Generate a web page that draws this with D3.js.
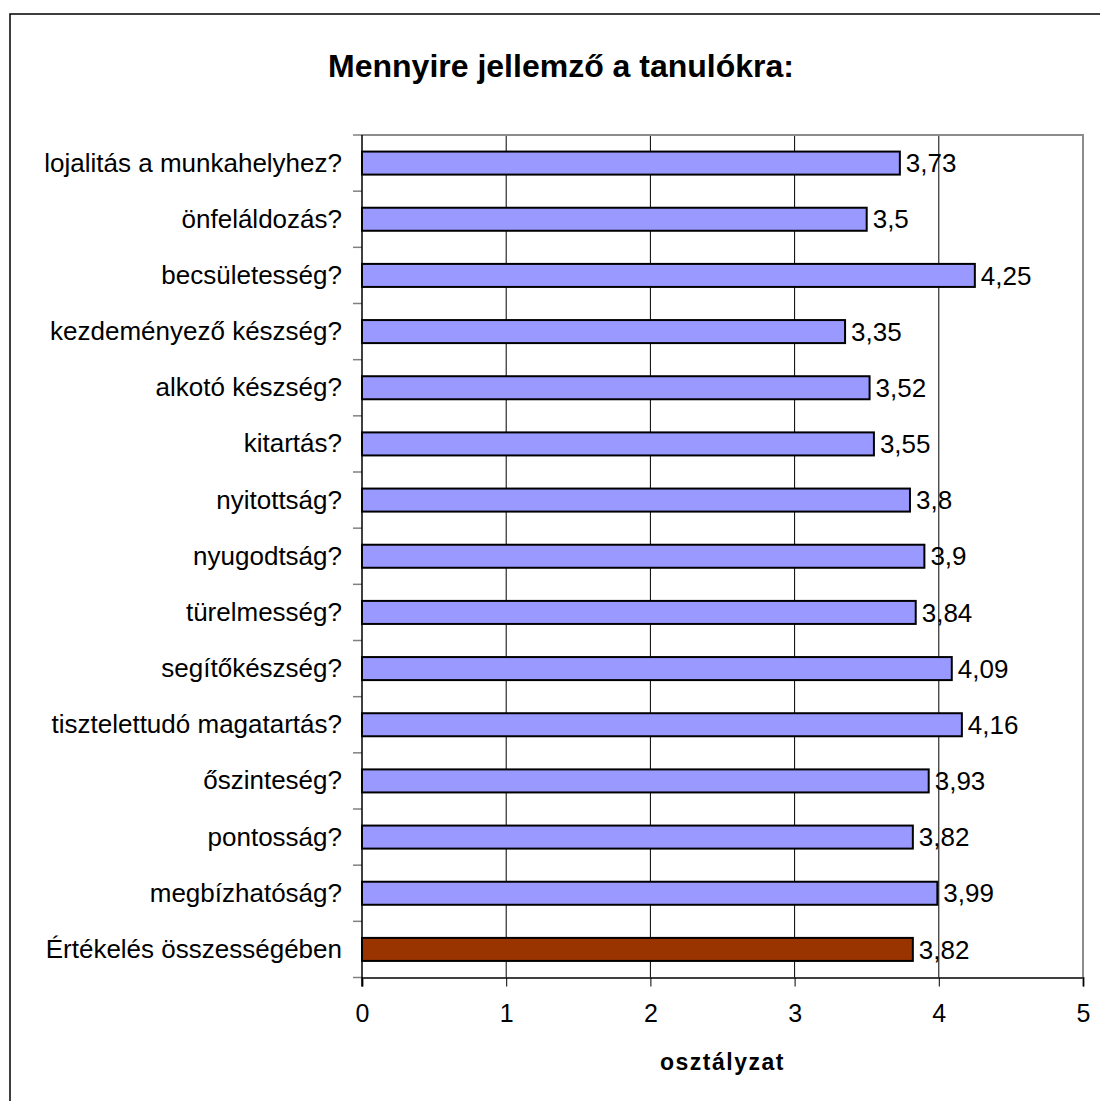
<!DOCTYPE html>
<html>
<head>
<meta charset="utf-8">
<script src="https://cdn.jsdelivr.net/npm/d3@7"></script>
<style>
  html, body { margin: 0; padding: 0; background: #fff; }
  text { font-family: "Liberation Sans", Arial, sans-serif; fill: #000; }
</style>
</head>
<body>
<svg id="chart" width="1100" height="1101"></svg>
<script>
const titleText = "Mennyire jellemző a tanulókra:";
const axisTitle = "osztályzat";
const categories = [
  "lojalitás a munkahelyhez?",
  "önfeláldozás?",
  "becsületesség?",
  "kezdeményező készség?",
  "alkotó készség?",
  "kitartás?",
  "nyitottság?",
  "nyugodtság?",
  "türelmesség?",
  "segítőkészség?",
  "tisztelettudó magatartás?",
  "őszinteség?",
  "pontosság?",
  "megbízhatóság?",
  "Értékelés összességében"
];
const values = [3.73, 3.5, 4.25, 3.35, 3.52, 3.55, 3.8, 3.9, 3.84, 4.09, 4.16, 3.93, 3.82, 3.99, 3.82];
const valueLabels = ["3,73", "3,5", "4,25", "3,35", "3,52", "3,55", "3,8", "3,9", "3,84", "4,09", "4,16", "3,93", "3,82", "3,99", "3,82"];
const xTicks = [0, 1, 2, 3, 4, 5];
const highlighted = ["Értékelés összességében"];

const svg = d3.select("#chart");
const W = 1100, H = 1101;
const m = { left: 362, right: 1083, top: 135, bottom: 977.5 };

// outer frame
svg.append("rect").attr("x", 10).attr("y", 14).attr("width", 1100).attr("height", 1100)
  .attr("fill", "#fff").attr("stroke", "#000").attr("stroke-width", 1.5);

const x = d3.scaleLinear().domain([0, 5]).range([m.left, m.right]);
const y = d3.scaleBand().domain(categories).range([m.top, m.bottom])
  .paddingInner(0.59).paddingOuter(0.295);

// gridlines
svg.append("g").selectAll("line").data(xTicks.filter(t => t > 0 && t < 5)).join("line")
  .attr("x1", d => x(d)).attr("x2", d => x(d))
  .attr("y1", m.top).attr("y2", m.bottom)
  .attr("stroke", "#000").attr("stroke-width", 1);

// plot border top/right
svg.append("path")
  .attr("d", `M${m.left},${m.top}H${m.right}V${m.bottom}`)
  .attr("fill", "none").attr("stroke", "#8c8c8c").attr("stroke-width", 2);

// bars
svg.append("g").selectAll("rect").data(categories).join("rect")
  .attr("x", x(0))
  .attr("y", d => y(d))
  .attr("width", (d, i) => x(values[i]) - x(0))
  .attr("height", y.bandwidth())
  .attr("fill", d => highlighted.includes(d) ? "#993300" : "#9999FF")
  .attr("stroke", "#000").attr("stroke-width", 2);

// bottom axis
const xAxis = d3.axisBottom(x).tickValues(xTicks).tickSize(9).tickPadding(18).tickFormat(d3.format("d"));
const gx = svg.append("g").attr("transform", `translate(0,${m.bottom})`).call(xAxis);
gx.select(".domain").attr("stroke", "#404040").attr("stroke-width", 2);
gx.selectAll(".tick line").attr("stroke", "#000").attr("stroke-width", 1);
gx.selectAll(".tick text").attr("font-size", 25).attr("font-family", "Liberation Sans, Arial, sans-serif").attr("fill", "#000");

// left axis
const step = y.step();
const bounds = d3.range(categories.length + 1).map(i => m.top + i * step);
svg.append("g").selectAll("line").data(bounds).join("line")
  .attr("x1", m.left - 9).attr("x2", m.left)
  .attr("y1", d => d).attr("y2", d => d)
  .attr("stroke", "#808080").attr("stroke-width", 1.5);
svg.append("line").attr("x1", m.left).attr("x2", m.left).attr("y1", m.top).attr("y2", m.bottom + 9)
  .attr("stroke", "#000").attr("stroke-width", 1.5);

// category labels
svg.append("g").selectAll("text").data(categories).join("text")
  .attr("x", m.left - 20)
  .attr("y", d => y(d) + y.bandwidth() / 2)
  .attr("dy", "0.33em")
  .attr("text-anchor", "end")
  .attr("font-size", 26)
  .text(d => d);

// value labels
svg.append("g").selectAll("text").data(categories).join("text")
  .attr("x", (d, i) => x(values[i]) + 6)
  .attr("y", d => y(d) + y.bandwidth() / 2)
  .attr("dy", "0.35em")
  .attr("font-size", 26)
  .text((d, i) => valueLabels[i]);

// title
svg.append("text").attr("x", 561).attr("y", 77).attr("text-anchor", "middle")
  .attr("font-size", 32).attr("font-weight", "bold").text(titleText);

// axis title
svg.append("text").attr("x", (m.left + m.right) / 2).attr("y", 1070).attr("text-anchor", "middle")
  .attr("font-size", 23).attr("font-weight", "bold").attr("letter-spacing", 1.5).text(axisTitle);
</script>
</body>
</html>
